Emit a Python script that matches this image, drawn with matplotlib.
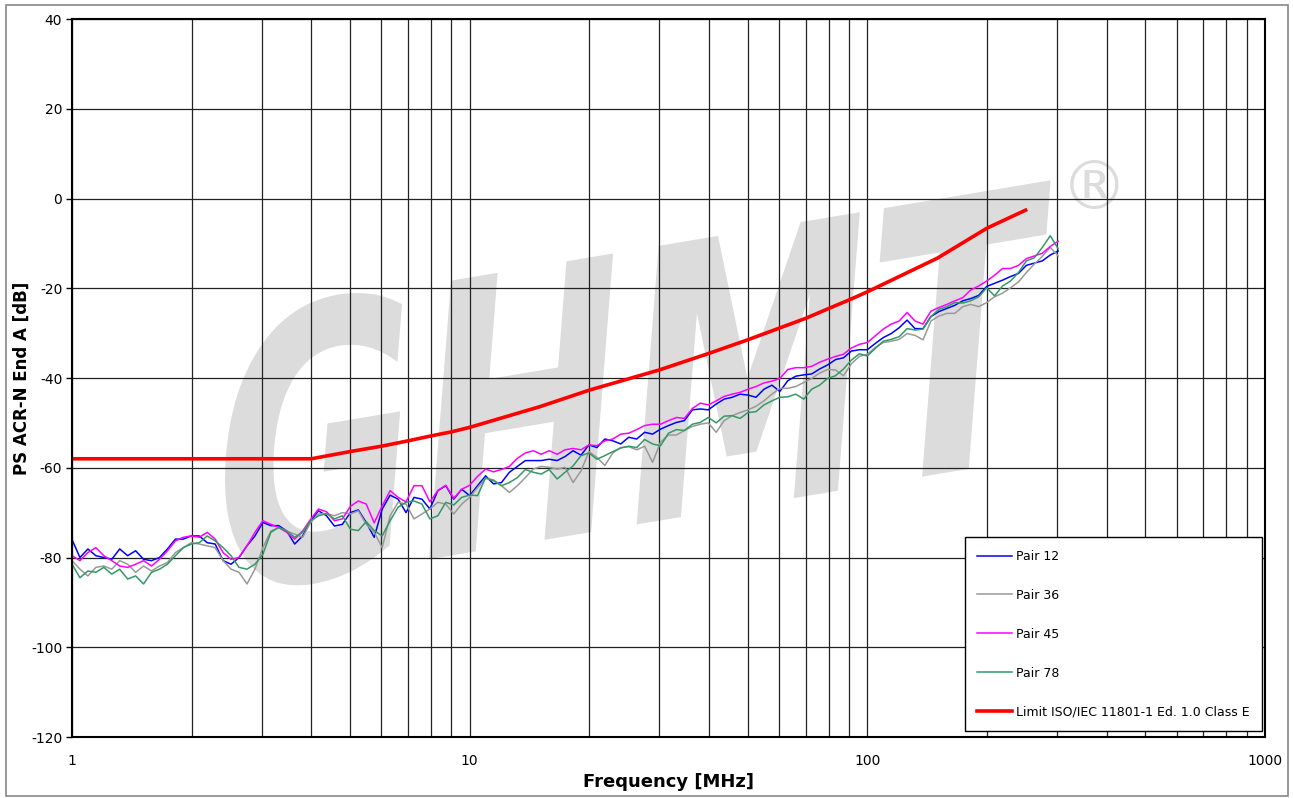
import numpy as np
import matplotlib
matplotlib.use('Agg')
import matplotlib.pyplot as plt
import matplotlib.transforms as mtransforms
from matplotlib.textpath import TextPath
from matplotlib.patches import PathPatch, Rectangle
from matplotlib.font_manager import FontProperties

plt.rcParams['font.family'] = ['DejaVu Sans']
plt.rcParams['axes.unicode_minus'] = False

# sampling grid of the measurement, 0.02 decade steps from 1 to ~300 MHz
freq = 10 ** (0.02 * np.arange(125))

pair12 = [-76.0, -80.0, -78.1, -79.6, -80.0, -80.4, -78.1, -79.6, -78.5, -80.4,
          -80.7, -80.0, -78.1, -75.9, -75.9, -75.2, -75.2, -76.7, -77.0, -80.7,
          -81.5, -80.0, -77.4, -75.2, -72.2, -72.9, -72.9, -74.1, -77.0, -75.2,
          -71.8, -69.6, -70.7, -73.0, -72.6, -70.0, -69.4, -72.2, -75.5, -69.2,
          -66.1, -67.0, -70.0, -66.6, -67.0, -69.2, -65.1, -64.0, -67.0, -64.8,
          -66.2, -64.0, -61.8, -63.6, -63.3, -61.0, -59.7, -58.4, -58.4, -58.4,
          -58.1, -58.4, -57.5, -56.2, -57.2, -54.9, -55.5, -53.6, -54.0, -54.7,
          -53.2, -53.6, -52.1, -52.5, -51.4, -50.6, -49.9, -49.5, -47.1, -46.9,
          -47.1, -45.8, -44.7, -44.3, -43.6, -43.8, -44.3, -42.5, -41.6, -43.0,
          -40.6, -39.6, -39.3, -39.1, -38.0, -37.1, -35.9, -35.5, -34.0, -33.7,
          -33.7, -32.3, -31.0, -30.1, -28.8, -27.1, -29.0, -29.0, -26.3, -25.2,
          -24.5, -23.8, -22.8, -22.3, -21.6, -19.6, -18.9, -18.2, -17.4, -16.7,
          -14.9, -14.4, -13.9, -12.6, -11.7]

pair36 = [-80.7, -82.6, -84.1, -82.2, -81.9, -82.6, -80.7, -81.5, -83.3, -81.9,
          -83.0, -81.9, -81.1, -78.9, -77.8, -76.7, -77.0, -77.4, -77.8, -80.7,
          -82.6, -83.3, -85.9, -82.6, -77.8, -74.1, -73.3, -74.1, -74.8, -75.5,
          -72.2, -70.3, -70.2, -70.7, -70.0, -70.3, -69.6, -72.6, -74.4, -77.8,
          -70.7, -67.7, -68.1, -71.4, -70.3, -69.2, -67.7, -68.1, -70.3, -68.1,
          -66.6, -64.4, -62.4, -62.7, -64.0, -65.5, -64.0, -62.2, -60.3, -59.7,
          -59.9, -60.3, -59.9, -63.3, -60.7, -56.4, -57.7, -59.5, -56.7, -55.5,
          -55.3, -56.0, -55.2, -58.8, -54.3, -52.7, -52.7, -51.7, -50.8, -50.3,
          -50.0, -52.1, -49.5, -48.4, -47.7, -47.1, -46.3, -45.1, -43.6, -42.3,
          -42.3, -41.9, -41.0, -40.1, -38.9, -38.1, -38.2, -39.5, -36.8, -35.2,
          -34.7, -33.2, -32.1, -31.8, -31.4, -30.1, -30.5, -31.5, -27.3, -26.2,
          -25.6, -25.6, -24.1, -23.6, -24.1, -23.2, -21.9, -21.1, -19.9, -18.6,
          -16.5, -14.6, -12.9, -10.9, -12.8]

pair45 = [-79.6, -80.7, -78.9, -77.8, -79.6, -80.7, -81.9, -82.2, -81.5, -80.7,
          -81.9, -80.4, -78.5, -76.3, -75.5, -75.2, -75.5, -74.4, -75.9, -78.9,
          -80.4, -80.0, -77.4, -74.4, -71.8, -72.6, -73.3, -74.4, -75.9, -74.1,
          -71.5, -69.2, -69.8, -71.8, -71.4, -68.6, -67.4, -68.1, -72.3, -68.5,
          -65.1, -66.6, -67.6, -64.0, -64.0, -67.6, -65.1, -63.9, -66.8, -64.8,
          -63.9, -61.9, -60.3, -60.9, -60.4, -59.7, -57.9, -56.7, -56.2, -57.0,
          -56.2, -57.0, -56.0, -55.7, -56.0, -54.9, -55.1, -54.0, -53.6, -52.5,
          -52.3, -51.5, -50.6, -50.3, -50.3, -49.5, -48.8, -49.0, -46.8, -45.6,
          -46.0, -45.1, -44.1, -43.6, -43.2, -42.5, -41.9, -41.1, -40.7, -40.1,
          -38.1, -37.7, -37.7, -37.4, -36.5, -35.8, -35.2, -34.7, -33.3, -32.5,
          -32.1, -30.6, -29.1, -28.0, -27.3, -25.4, -27.3, -28.0, -25.1, -24.3,
          -23.6, -22.8, -22.1, -20.4, -19.5, -18.4, -17.1, -15.6, -15.6, -14.9,
          -13.4, -12.8, -12.2, -10.7, -9.5]

pair78 = [-81.5, -84.5, -83.0, -83.3, -82.2, -83.7, -82.6, -84.8, -84.1, -85.9,
          -83.3, -82.6, -81.5, -79.6, -77.8, -77.0, -76.7, -75.2, -76.3, -77.8,
          -79.6, -82.2, -82.6, -81.5, -79.3, -74.4, -73.3, -74.1, -75.5, -74.4,
          -71.8, -70.7, -70.2, -71.4, -70.7, -73.7, -74.0, -72.0, -74.0, -75.2,
          -71.8, -68.8, -67.7, -67.4, -68.1, -71.4, -70.7, -67.7, -68.3, -66.6,
          -66.1, -66.2, -62.2, -62.9, -64.0, -63.3, -62.2, -60.4, -61.0, -61.4,
          -60.4, -62.5, -61.0, -59.6, -57.3, -56.7, -58.1, -57.3, -56.4, -55.6,
          -55.2, -55.5, -53.7, -54.7, -55.1, -52.3, -51.5, -51.7, -50.3, -49.9,
          -48.8, -50.0, -48.5, -48.4, -49.0, -47.7, -47.5, -46.0, -45.1, -44.3,
          -44.2, -43.6, -44.7, -42.5, -41.6, -40.1, -39.5, -38.0, -36.0, -34.6,
          -35.1, -33.4, -31.8, -31.4, -30.8, -29.0, -29.3, -29.1, -26.3, -24.7,
          -24.1, -23.2, -23.3, -22.8, -21.9, -19.9, -21.7, -19.5, -18.4, -16.5,
          -13.9, -13.2, -10.9, -8.3, -11.2]

limit_freq = [1, 4, 5, 6, 7, 8, 9, 10, 15, 20, 30, 40, 50, 60, 70, 80, 90, 100,
              150, 200, 250]
limit_val = [-58.0, -58.0, -56.4, -55.2, -54.0, -52.9, -52.0, -51.0, -46.4, -42.7,
             -38.2, -34.5, -31.5, -28.9, -26.7, -24.5, -22.6, -20.8, -13.3, -6.6,
             -2.6]

series = [('Pair 12', pair12, '#0000ff'),
          ('Pair 36', pair36, '#999999'),
          ('Pair 45', pair45, '#ff00ff'),
          ('Pair 78', pair78, '#339966')]

fig = plt.figure(figsize=(12.93, 7.98), dpi=100)
ax = fig.add_axes([0.05568, 0.07644, 0.92266, 0.89975])

# watermark
tp = TextPath((0, 0), 'GHMT', size=1, prop=FontProperties(family='DejaVu Sans', weight='bold'))
bb = tp.get_extents()
tr = (mtransforms.Affine2D().translate(-bb.x0, 0)
      .scale(825 / bb.width, 276 / bb.y1)
      .skew_deg(14, 0).rotate_deg(9.5).translate(215, 798 - 595))
wm = PathPatch(tr.transform_path(tp), facecolor='#dcdcdc', edgecolor='none',
               transform=mtransforms.IdentityTransform(), zorder=0.2)
ax.add_artist(wm)
ax.text(0.8567, 0.7618, '\u00ae', transform=ax.transAxes, fontsize=48,
        color='#dcdcdc', ha='center', va='center', zorder=0.2)

for name, vals, col in series:
    ax.plot(freq, vals, color=col, lw=1.1, label=name)
ax.plot(limit_freq, limit_val, color='#ff0000', lw=2.6,
        label='Limit ISO/IEC 11801-1 Ed. 1.0 Class E')

ax.set_xscale('log')
ax.set_xlim(1, 1000)
ax.set_ylim(-120, 40)
ax.set_yticks(range(-120, 41, 20))
ax.set_xticks([1, 10, 100, 1000])
ax.set_xticklabels(['1', '10', '100', '1000'])
ax.set_xticks([m * d for d in (1, 10, 100) for m in range(2, 10)], minor=True)
ax.xaxis.set_minor_formatter(matplotlib.ticker.NullFormatter())
ax.set_axisbelow(True)
ax.grid(True, which='both', axis='x', color='#222222', lw=0.9)
ax.grid(True, which='major', axis='y', color='#222222', lw=0.9)
ax.tick_params(axis='x', which='both', length=0, pad=12, labelsize=10)
ax.tick_params(axis='y', length=4, width=1, pad=3, labelsize=10)
for s in ax.spines.values():
    s.set_linewidth(1.5)
    s.set_color('black')

ax.set_xlabel('Frequency [MHz]', fontsize=13, fontweight='bold', labelpad=4)
ax.set_ylabel('PS ACR-N End A [dB]', fontsize=12, fontweight='bold', labelpad=0)

leg = ax.legend(loc='lower right', bbox_to_anchor=(0.9975, 0.0084), borderaxespad=0,
                fontsize=9, labelspacing=2.07, handlelength=2.8, handletextpad=0.3,
                borderpad=1.0, fancybox=False, framealpha=1, edgecolor='black')
leg.get_frame().set_linewidth(1.0)

fig.patches.append(Rectangle((0.0046, 0.0025), 0.9915, 0.9912, transform=fig.transFigure,
                             fill=False, edgecolor='#888888', lw=1.2))

fig.savefig('out.png', dpi=100, facecolor='white')
